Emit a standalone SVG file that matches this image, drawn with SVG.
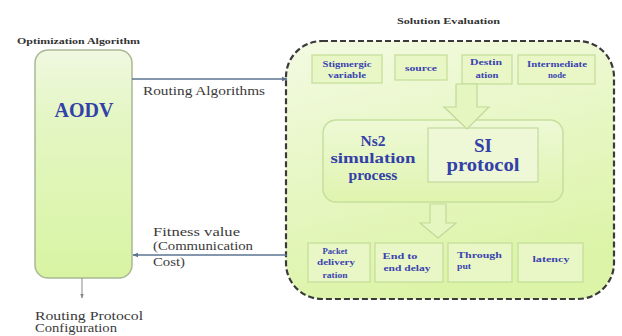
<svg xmlns="http://www.w3.org/2000/svg" width="622" height="336" viewBox="0 0 622 336">
<style>
.lbl{font-family:"Liberation Serif","Times New Roman",serif;fill:#3a3a3a}
.ttl{font-family:"Liberation Serif","Times New Roman",serif;fill:#333;font-weight:bold;font-size:9px}
.sm{font-family:"Liberation Serif","Times New Roman",serif;fill:#3a44b0;font-weight:bold;font-size:8.5px;text-anchor:middle}
.big{font-family:"Liberation Serif","Times New Roman",serif;fill:#3240a8;font-weight:bold;text-anchor:middle}
.box{fill:#e9f7c6;stroke:#c3dc98;stroke-width:1.2}
.conn{stroke:#5d7490;stroke-width:1.3;fill:none}
.blk{fill:#e6f6c0;stroke:#c0d998;stroke-width:1.2}
</style>
<defs>
<linearGradient id="gLeft" x1="0" y1="0" x2="0" y2="1">
<stop offset="0" stop-color="#f0f8e0"/>
<stop offset="0.3" stop-color="#e4f6c4"/>
<stop offset="1" stop-color="#d8f4a2"/>
</linearGradient>
<linearGradient id="gBig" x1="0" y1="0" x2="0.3" y2="1">
<stop offset="0" stop-color="#f3fae2"/>
<stop offset="1" stop-color="#dcf4a8"/>
</linearGradient>
<linearGradient id="gMid" x1="0" y1="0" x2="0" y2="1">
<stop offset="0" stop-color="#eef9d6"/>
<stop offset="1" stop-color="#dff4ae"/>
</linearGradient>
<marker id="ah" viewBox="0 0 10 10" refX="9" refY="5" markerWidth="6" markerHeight="6" orient="auto-start-reverse" markerUnits="userSpaceOnUse">
<path d="M0,1 L10,5 L0,9 z" fill="#5d7490"/>
</marker>
<marker id="ahg" viewBox="0 0 10 10" refX="9" refY="5" markerWidth="5" markerHeight="5" orient="auto" markerUnits="userSpaceOnUse">
<path d="M0,1 L10,5 L0,9 z" fill="#8a8a8a"/>
</marker>
</defs>
<rect width="622" height="336" fill="#ffffff"/>

<g id="optimization">
<text class="ttl" x="17" y="44" textLength="123" lengthAdjust="spacingAndGlyphs">Optimization Algorithm</text>
<rect x="35" y="50" width="97" height="228" rx="13" fill="url(#gLeft)" stroke="#a9b995" stroke-width="1.5"/>
<text class="big" x="84" y="117" font-size="20">AODV</text>
</g>

<g id="solution">
<text class="ttl" x="397" y="24" textLength="103" lengthAdjust="spacingAndGlyphs">Solution Evaluation</text>
<rect x="286" y="41" width="328" height="258" rx="36" fill="url(#gBig)" stroke="#3a3a3a" stroke-width="2.2" stroke-dasharray="6 3"/>
</g>

<g id="stigmergic">
<rect class="box" x="312" y="55" width="70" height="28"/>
<text class="sm" x="347" y="67" textLength="49" lengthAdjust="spacingAndGlyphs">Stigmergic</text>
<text class="sm" x="347" y="78" textLength="38" lengthAdjust="spacingAndGlyphs">variable</text>
</g>
<g id="source">
<rect class="box" x="395" y="55" width="52" height="25"/>
<text class="sm" x="421" y="71" textLength="32" lengthAdjust="spacingAndGlyphs">source</text>
</g>
<g id="destination">
<rect class="box" x="462" y="55" width="50" height="29"/>
<text class="sm" x="486" y="65" textLength="32" lengthAdjust="spacingAndGlyphs">Destin</text>
<text class="sm" x="487" y="78" textLength="23" lengthAdjust="spacingAndGlyphs">ation</text>
</g>
<g id="intermediate">
<rect class="box" x="518" y="55" width="77" height="29"/>
<text class="sm" x="557" y="67" textLength="60" lengthAdjust="spacingAndGlyphs">Intermediate</text>
<text class="sm" x="557" y="78" textLength="18" lengthAdjust="spacingAndGlyphs">node</text>
</g>

<g id="ns2">
<rect x="323" y="120" width="240" height="82" rx="13" fill="url(#gMid)" stroke="#c6df9c" stroke-width="1.5"/>
<text class="big" x="373" y="146" font-size="15.5">Ns2</text>
<text class="big" x="373" y="163" font-size="15.5" textLength="85" lengthAdjust="spacingAndGlyphs">simulation</text>
<text class="big" x="373" y="180" font-size="15.5">process</text>
</g>
<g id="si">
<rect x="428" y="128" width="110" height="54" fill="#eef8d6" stroke="#c3da9c" stroke-width="1.2"/>
<text class="big" x="483" y="152" font-size="19">SI</text>
<text class="big" x="483" y="171" font-size="19" textLength="73" lengthAdjust="spacingAndGlyphs">protocol</text>
</g>

<g id="pdr">
<rect class="box" x="308" y="243" width="62" height="39"/>
<text class="sm" x="335" y="254" textLength="25" lengthAdjust="spacingAndGlyphs">Packet</text>
<text class="sm" x="336" y="265" textLength="38" lengthAdjust="spacingAndGlyphs">delivery</text>
<text class="sm" x="335" y="278" textLength="25" lengthAdjust="spacingAndGlyphs">ration</text>
</g>
<g id="e2e">
<rect class="box" x="375" y="243" width="68" height="39"/>
<text class="sm" x="400" y="259" textLength="35" lengthAdjust="spacingAndGlyphs">End to</text>
<text class="sm" x="407" y="271" textLength="47" lengthAdjust="spacingAndGlyphs">end delay</text>
</g>
<g id="throughput">
<rect class="box" x="448" y="243" width="64" height="39"/>
<text class="sm" x="457" y="258" style="text-anchor:start" textLength="45" lengthAdjust="spacingAndGlyphs">Through</text>
<text class="sm" x="457" y="269" style="text-anchor:start" textLength="14" lengthAdjust="spacingAndGlyphs">put</text>
</g>
<g id="latency">
<rect class="box" x="518" y="243" width="65" height="39"/>
<text class="sm" x="551" y="262" textLength="37" lengthAdjust="spacingAndGlyphs">latency</text>
</g>

<g id="connectors">
<line class="conn" x1="132" y1="79" x2="287" y2="79" marker-end="url(#ah)"/>
<text class="lbl" x="143" y="95" font-size="12" textLength="122" lengthAdjust="spacingAndGlyphs">Routing Algorithms</text>
<line class="conn" x1="287" y1="255" x2="133" y2="255" marker-end="url(#ah)"/>
<text class="lbl" x="153" y="236" font-size="12" textLength="87" lengthAdjust="spacingAndGlyphs">Fitness value</text>
<text class="lbl" x="153" y="250" font-size="12" textLength="100" lengthAdjust="spacingAndGlyphs">(Communication</text>
<text class="lbl" x="153" y="266" font-size="12" textLength="32" lengthAdjust="spacingAndGlyphs">Cost)</text>
<line x1="82" y1="278" x2="82" y2="298" stroke="#8a8a8a" stroke-width="1" marker-end="url(#ahg)"/>
<text class="lbl" x="35" y="320" font-size="11.5" textLength="108" lengthAdjust="spacingAndGlyphs">Routing Protocol</text>
<text class="lbl" x="35" y="332" font-size="11.5" textLength="82" lengthAdjust="spacingAndGlyphs">Configuration</text>
<path class="blk" d="M456,84 L477,84 L477,107 L489,107 L467,129 L444,107 L456,107 Z"/>
<path class="blk" d="M430,204 L446,204 L446,223 L456,223 L438,238 L420,223 L430,223 Z"/>
</g>
</svg>
